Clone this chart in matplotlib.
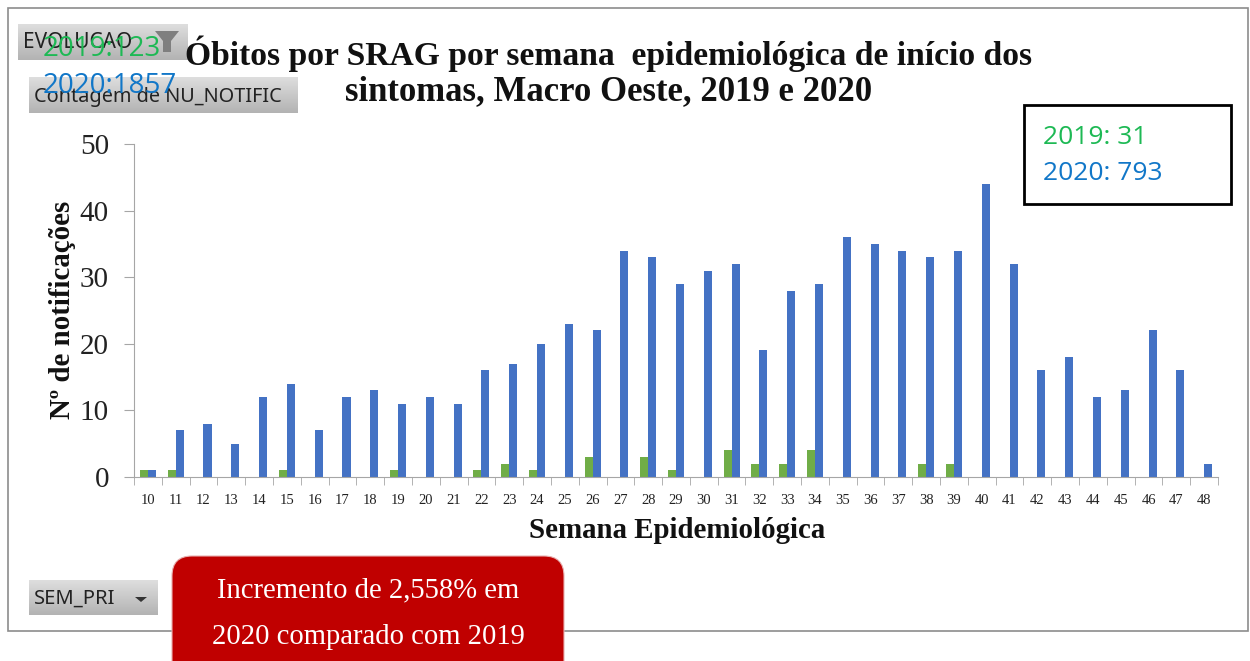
import numpy as np
import matplotlib
matplotlib.use("Agg")
import matplotlib.pyplot as plt
from matplotlib.patches import Rectangle, FancyBboxPatch, Polygon

weeks = list(range(10, 49))
v2019 = [1,1,0,0,0,1,0,0,0,1,0,0,1,2,1,0,3,0,3,1,0,4,2,2,4,0,0,0,2,2,0,0,0,0,0,0,0,0,0]
v2020 = [1,7,8,5,12,14,7,12,13,11,12,11,16,17,20,23,22,34,33,29,31,32,19,28,29,36,35,34,33,34,44,32,16,18,12,13,22,16,2]
yticks = [0,10,20,30,40,50]
title_lines = ["Óbitos por SRAG por semana  epidemiológica de início dos", "sintomas, Macro Oeste, 2019 e 2020"]
ylabel = "Nº de notificações"
xlabel = "Semana Epidemiológica"

W, H = 1250, 661
SERIF = "Liberation Serif"
fig = plt.figure(figsize=(W/100, H/100), dpi=100, facecolor="white")

bg = fig.add_axes([0,0,1,1], zorder=0); bg.set_xlim(0,W); bg.set_ylim(H,0); bg.axis("off")
bg.add_patch(Rectangle((8,8),1240,623,fc="white",ec="#8c8c8c",lw=1.2))

ax = fig.add_axes([134/W, 1-477/H, (1218-134)/W, (477-144)/H], zorder=1)
ax.patch.set_alpha(0)
bw = 0.29
x = np.array(weeks)
ax.bar(x-bw/2, v2019, bw, color="#70AD47")
ax.bar(x+bw/2, v2020, bw, color="#4472C4")
ax.set_xlim(9.5,48.5); ax.set_ylim(0,50)
for s in ["top","right"]:
    ax.spines[s].set_visible(False)
for s in ["left","bottom"]:
    ax.spines[s].set_color("#a6a6a6")
ax.set_yticks(yticks)
ax.set_yticklabels([str(t) for t in yticks], fontsize=21, family=SERIF, color="#222222")
ax.tick_params(axis="y", length=7, color="#a6a6a6", pad=11, direction="out")
ax.set_xticks(x); ax.set_xticklabels([str(w) for w in weeks], fontsize=10.5, family=SERIF, color="#222222")
ax.tick_params(axis="x", length=0, pad=12)
ax.set_xticks(np.arange(9.5,49.5,1), minor=True)
ax.tick_params(axis="x", which="minor", length=6, color="#a6a6a6", direction="out")

top = fig.add_axes([0,0,1,1], zorder=2); top.set_xlim(0,W); top.set_ylim(H,0); top.axis("off"); top.patch.set_alpha(0)
grad = np.linspace(0.87,0.70,64).reshape(-1,1)
def button(x0,x1,y0,y1):
    top.imshow(grad,extent=(x0,x1,y1,y0),cmap="gray",vmin=0,vmax=1,aspect="auto",zorder=1)
button(18,188,24,60); button(29,298,77,113); button(29,158,580,615)
top.set_xlim(0,W); top.set_ylim(H,0)
top.text(23,43,"EVOLUCAO",fontsize=15,family="Noto Sans",color="#222222",va="center",zorder=2)
top.text(34,97,"Contagem de NU_NOTIFIC",fontsize=14.3,family="Noto Sans",color="#222222",va="center",zorder=2)
top.text(34,599,"SEM_PRI",fontsize=14.5,family="Noto Sans",color="#222222",va="center",zorder=2)
top.add_patch(Polygon([(155,31),(179,31),(171,41),(171,52),(163,52),(163,41)],fc="#7f7f7f",ec="none",zorder=2))
top.add_patch(Polygon([(135,597),(147,597),(141,602)],fc="#333333",ec="none",zorder=2))
top.text(43,49,"2019:123",fontsize=20,family="Open Sans",color="#1DB954",va="center",zorder=3)
top.text(43,86,"2020:1857",fontsize=20,family="Open Sans",color="#1177C8",va="center",zorder=3)

top.text(609,54,title_lines[0],fontsize=24.2,fontweight="bold",family=SERIF,ha="center",va="center",color="#111111")
top.text(609,92,title_lines[1],fontsize=25,fontweight="bold",family=SERIF,ha="center",va="center",color="#111111")
top.text(62,310,ylabel,rotation=90,fontsize=20.8,fontweight="bold",family=SERIF,ha="center",va="center",color="#111111")
top.text(677,531,xlabel,fontsize=20.8,fontweight="bold",family=SERIF,ha="center",va="center",color="#111111")

top.add_patch(Rectangle((1024,105),207,99,fc="white",ec="black",lw=2,zorder=2))
top.text(1043,137,"2019: 31",fontsize=19,family="Open Sans",color="#1DB954",va="center",zorder=3)
top.text(1043,173,"2020: 793",fontsize=19,family="Open Sans",color="#1177C8",va="center",zorder=3)

top.add_patch(FancyBboxPatch((192,576),352,110,boxstyle="round,pad=20,rounding_size=20",fc="#C00000",ec="#e8b0b0",lw=0.8,zorder=2,clip_on=True))
top.text(368,590,"Incremento de 2,558% em",fontsize=20.6,family=SERIF,color="white",ha="center",va="center",zorder=3)
top.text(368,637,"2020 comparado com 2019",fontsize=20.6,family=SERIF,color="white",ha="center",va="center",zorder=3)

fig.savefig("out.png",dpi=100)
